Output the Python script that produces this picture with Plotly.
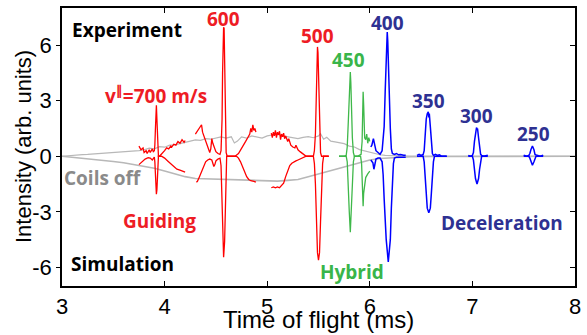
import plotly.graph_objects as go

# ---------------- data ----------------
# Coils off, experiment (grey, positive side)
coils_exp_t = [3.0, 3.05, 3.1, 3.15, 3.2, 3.25, 3.3, 3.35, 3.4, 3.45, 3.5, 3.55, 3.6, 3.65, 3.7, 3.75,
               3.8, 3.85, 3.9, 3.95, 4.0, 4.05, 4.1, 4.15, 4.2, 4.25, 4.3, 4.35, 4.4, 4.45, 4.5, 4.55,
               4.6, 4.65, 4.68, 4.71, 4.75, 4.8, 4.85, 4.9, 4.95, 5.0, 5.05, 5.1, 5.15, 5.2, 5.25,
               5.3, 5.35, 5.4, 5.45, 5.5, 5.52, 5.55, 5.58, 5.62, 5.66, 5.7, 5.75, 5.8, 5.85, 5.9,
               5.95, 6.0, 6.05, 6.1, 6.15, 6.2, 6.3, 6.4, 6.5, 6.6, 6.8, 7.0, 7.2, 7.4, 7.6, 7.8, 8.0]
coils_exp_v = [0.0, 0.03, 0.06, 0.05, 0.09, 0.1, 0.12, 0.11, 0.15, 0.14, 0.18, 0.2, 0.21, 0.24, 0.27, 0.3,
               0.35, 0.44, 0.4, 0.52, 0.49, 0.6, 0.62, 0.68, 0.78, 0.8, 0.88, 0.86, 0.95, 0.92, 1.0, 1.05,
               0.98, 1.05, 0.72, 0.82, 1.05, 0.98, 1.1, 1.04, 0.98, 1.1, 1.13, 1.2, 1.1, 1.05, 0.98,
               0.95, 1.02, 1.06, 1.0, 1.1, 1.22, 0.92, 1.02, 0.82, 0.78, 0.72, 0.68, 0.55, 0.5, 0.36,
               0.28, 0.2, 0.13, 0.08, 0.05, 0.03, 0.02, 0.01, 0.0, 0.0, 0.0, 0.0, 0.0, 0.0, 0.0, 0.0, 0.0]

# Coils off, simulation (grey, negative side)
coils_sim_t = [3.0, 3.1, 3.2, 3.3, 3.4, 3.5, 3.6, 3.7, 3.8, 3.9, 4.0, 4.1, 4.2, 4.3, 4.4, 4.5, 4.6,
               4.7, 4.8, 4.9, 5.0, 5.1, 5.2, 5.3, 5.4, 5.5, 5.6, 5.7, 5.8, 5.9, 6.0, 6.1, 6.2, 6.4,
               6.6, 7.0, 7.5, 8.0]
coils_sim_v = [0.0, -0.05, -0.1, -0.15, -0.2, -0.28, -0.35, -0.45, -0.55, -0.65, -0.8, -0.95, -1.1,
               -1.2, -1.22, -1.25, -1.24, -1.28, -1.3, -1.32, -1.35, -1.34, -1.3, -1.25, -1.1, -0.95,
               -0.8, -0.65, -0.5, -0.35, -0.2, -0.12, -0.08, -0.03, -0.01, 0.0, 0.0, 0.0]

# Guiding (red), experiment
guiding_exp_t = [3.75, 3.77, 3.79, 3.80, 3.82, 3.83, 3.85, 3.86, 3.88, 3.89, 3.90, 3.905, 3.91, 3.915,
                 3.92, 3.925, 3.93, 3.935, 3.94, 3.95, 3.96, 3.98, 4.00, 4.02, 4.04, 4.06, 4.07, 4.09,
                 4.11, 4.13, 4.15, 4.17, 4.19, 4.20, None,
                 4.30, 4.32, 4.34, 4.36, 4.37, 4.39, 4.41, 4.43, 4.44, 4.45, 4.46, 4.47, 4.48, 4.49,
                 4.50, 4.52, 4.54, 4.55, 4.56, 4.565, 4.57, 4.575, 4.58, 4.585, 4.59, 4.595, 4.60,
                 4.61, 4.65, 4.69, 4.72, 4.75, 4.77, 4.79, 4.81, 4.83, 4.84, 4.85, 4.86, 4.87, 4.88,
                 4.89, None,
                 5.04, 5.05, 5.06, 5.07, 5.08, 5.09, 5.10, 5.11, 5.12, 5.13, 5.14, 5.15, 5.16, 5.17,
                 5.18, 5.20, 5.21, 5.23, 5.25, 5.27, 5.28, 5.30, 5.32, 5.34, 5.36, 5.38, 5.45, 5.46,
                 5.47, 5.475, 5.48, 5.485, 5.49, 5.495, 5.50, 5.505, 5.51, 5.52, 5.53, 5.60]
guiding_exp_v = [0.55, 0.35, 0.45, 0.2, 0.3, 0.15, 0.35, 0.2, 0.4, 0.25, 0.3, 0.6, 1.4, 2.3,
                 2.75, 2.0, 1.0, 0.3, 0.0, 0.0, 0.05, 0.15, 0.3, 0.45, 0.4, 0.55, 0.5, 0.65,
                 0.6, 0.8, 0.7, 0.9, 0.75, 0.85, None,
                 1.2, 1.35, 1.5, 1.7, 1.3, 1.0, 0.7, 0.45, 0.2, 0.4, 0.95, 0.7, 0.5, 0.35,
                 0.25, 0.15, 0.1, 0.3, 2.0, 4.5, 6.5, 6.96, 6.9, 5.5, 3.5, 1.5, 0.2,
                 0.0, 0.0, 0.02, 0.15, 0.4, 0.6, 0.8, 1.0, 1.2, 1.5, 1.3, 1.7, 1.4, 1.5,
                 1.3, None,
                 1.25, 1.0, 1.3, 1.1, 1.4, 1.0, 1.3, 1.15, 1.35, 0.9, 1.2, 1.05, 1.25, 0.95,
                 1.1, 0.8, 0.95, 0.6, 0.5, 0.45, 0.6, 0.35, 0.25, 0.15, 0.05, 0.0, 0.0, 0.3,
                 1.2, 2.6, 4.3, 5.5, 5.9, 5.6, 4.4, 2.6, 1.0, 0.2, 0.0, 0.0]

# Guiding (red), simulation
guiding_sim_t = [3.75, 3.78, 3.81, 3.84, 3.86, 3.88, 3.89, 3.90, 3.905, 3.91, 3.915, 3.92, 3.925,
                 3.93, 3.935, 3.94, 3.97, 4.00, 4.03, 4.06, 4.09, 4.12, 4.15, 4.18, 4.20, None,
                 4.31, 4.32, 4.34, 4.36, 4.38, 4.40, 4.42, 4.44, 4.46, 4.47, 4.48, 4.49, 4.50, 4.52,
                 4.54, 4.55, 4.555, 4.56, 4.565, 4.575, 4.585, 4.59, 4.595, 4.60, 4.605, 4.70, 4.72,
                 4.74, 4.76, 4.78, 4.80, 4.82, 4.84, 4.87, 4.89, None,
                 5.04, 5.06, 5.08, 5.10, 5.12, 5.14, 5.16, 5.18, 5.20, 5.22, 5.24, 5.26, 5.28, 5.30,
                 5.32, 5.34, 5.36, 5.38, 5.45, 5.46, 5.47, 5.48, 5.49, 5.50, 5.51, 5.52, 5.53, 5.54,
                 5.55, 5.60]
guiding_sim_v = [-0.45, -0.3, -0.15, -0.08, -0.1, -0.2, -0.1, -0.05, -0.3, -1.0, -1.8, -2.05, -1.8,
                 -1.0, -0.3, 0.0, 0.0, -0.1, -0.25, -0.4, -0.55, -0.7, -0.75, -0.8, -0.85, None,
                 -1.4, -1.35, -1.1, -0.8, -0.5, -0.3, -0.2, -0.15, -0.2, -0.4, -0.55, -0.45, -0.25, -0.15,
                 -0.1, -0.5, -1.5, -3.0, -4.6, -5.45, -4.6, -3.0, -1.5, -0.5, 0.0, 0.0, -0.1,
                 -0.3, -0.6, -0.85, -1.1, -1.25, -1.32, -1.35, -1.4, None,
                 -1.7, -1.65, -1.7, -1.65, -1.7, -1.6, -1.45, -1.1, -0.75, -0.5, -0.38, -0.3, -0.25, -0.2,
                 -0.15, -0.1, -0.05, 0.0, 0.0, -0.4, -1.5, -3.5, -5.2, -5.6, -5.2, -3.5, -1.5, -0.4,
                 0.0, 0.0]

# Hybrid (green), experiment
hybrid_exp_t = [5.70, 5.75, 5.77, 5.78, 5.79, 5.80, 5.805, 5.81, 5.815, 5.82, 5.83, 5.84, 5.85, 5.88,
                5.915, 5.925, 5.93, 5.935, 5.94, 5.945, 5.95, 5.96, 5.97, 5.98, 5.99, 6.00]
hybrid_exp_v = [0.0, 0.0, 0.05, 0.5, 1.8, 3.5, 4.2, 4.55, 4.0, 2.8, 1.0, 0.2, 0.0, 0.0,
                0.1, 0.8, 2.5, 3.48, 2.8, 1.6, 1.0, 0.9, 1.2, 0.7, 1.0, 0.8]

# Hybrid (green), simulation
hybrid_sim_t = [5.70, 5.77, 5.78, 5.79, 5.80, 5.81, 5.82, 5.83, 5.84, 5.85, 5.91, 5.92, 5.93, 5.935,
                5.94, 5.95, 5.96, 5.98, 6.00]
hybrid_sim_v = [0.0, 0.0, -0.3, -1.3, -3.0, -4.1, -3.0, -1.3, -0.3, 0.0, 0.0, -0.4, -1.8, -2.7,
                -2.0, -1.4, -1.15, -0.95, -0.8]

# Deceleration (blue), experiment
decel_exp_t = [6.01, 6.02, 6.035, 6.045, 6.06, 6.08, 6.09, 6.10, 6.12, 6.13, 6.14, 6.15, 6.16, 6.17,
               6.175, 6.18, 6.19, 6.20, 6.21, 6.22, 6.24, 6.26, 6.28, 6.30, 6.33, 6.35, None,
               6.46, 6.48, 6.50, 6.52, 6.53, 6.54, 6.55, 6.56, 6.57, 6.575, 6.58, 6.59, 6.60, 6.61,
               6.62, 6.64, 6.66, 6.68, 6.70, 6.75, None,
               6.96, 6.98, 7.00, 7.01, 7.02, 7.03, 7.04, 7.045, 7.05, 7.06, 7.07, 7.08, 7.09, 7.11,
               7.15, None,
               7.50, 7.53, 7.55, 7.56, 7.57, 7.585, 7.60, 7.61, 7.63, 7.66, 7.69]
decel_exp_v = [0.5, 0.6, 0.95, 0.6, 0.3, 0.2, 0.15, 0.1, 0.3, 1.2, 1.6, 3.5, 5.8, 6.7,
               6.2, 5.0, 3.0, 1.5, 0.4, 0.15, 0.1, 0.15, 0.08, 0.1, 0.05, 0.05, None,
               0.05, 0.1, 0.04, 0.1, 0.3, 1.2, 2.0, 2.3, 2.4, 2.1, 2.3, 1.6, 0.6, 0.15,
               0.05, 0.1, 0.05, 0.08, 0.0, 0.0, None,
               0.05, 0.0, 0.05, 0.2, 0.8, 1.3, 1.55, 1.45, 1.5, 1.0, 0.4, 0.1, 0.05, 0.0,
               0.05, None,
               0.05, 0.0, 0.05, 0.15, 0.35, 0.55, 0.35, 0.1, 0.05, 0.0, 0.05]

# Deceleration (blue), simulation
decel_sim_t = [6.01, 6.03, 6.04, 6.05, 6.06, 6.08, 6.10, 6.12, 6.13, 6.14, 6.16, 6.18, 6.20, 6.21,
               6.22, 6.23, 6.24, 6.26, 6.35, None,
               6.46, 6.52, 6.53, 6.54, 6.55, 6.56, 6.575, 6.59, 6.60, 6.61, 6.62, 6.63, 6.75, None,
               6.96, 7.00, 7.01, 7.02, 7.03, 7.045, 7.06, 7.07, 7.08, 7.09, 7.15, None,
               7.50, 7.55, 7.56, 7.57, 7.585, 7.60, 7.61, 7.62, 7.69]
decel_sim_v = [-0.2, -0.35, -0.7, -0.45, -0.15, -0.1, -0.1, -0.3, -1.0, -2.3, -4.5, -5.7, -4.5, -2.8,
               -1.2, -0.4, -0.1, -0.05, -0.05, None,
               0.0, 0.0, -0.3, -1.0, -2.0, -2.8, -3.05, -2.8, -2.0, -1.0, -0.3, 0.0, 0.0, None,
               0.0, 0.0, -0.2, -0.7, -1.2, -1.5, -1.2, -0.7, -0.2, 0.0, 0.0, None,
               0.0, 0.0, -0.1, -0.3, -0.48, -0.3, -0.1, 0.0, 0.0]

# Tick labels
x_ticks = [3, 4, 5, 6, 7, 8]
y_ticks = [-6, -3, 0, 3, 6]

# Labels: (text, t, value, colour)
labels = [
    ("Experiment", 3.63, 6.8, "#000000"),
    ("Simulation", 3.59, -5.8, "#000000"),
    ("Coils off", 3.4, -1.17, "#8a8a8a"),
    ("Guiding", 3.95, -3.5, "#ee1c25"),
    ("Hybrid", 5.83, -6.25, "#39b54a"),
    ("Deceleration", 7.29, -3.6, "#2e3192"),
    ("v<sup>\u2225</sup>=700 m/s", 3.92, 3.3, "#ee1c25"),
    ("600", 4.575, 7.4, "#ee1c25"),
    ("500", 5.49, 6.5, "#ee1c25"),
    ("450", 5.79, 5.2, "#39b54a"),
    ("400", 6.17, 7.2, "#2e3192"),
    ("350", 6.57, 3.0, "#2e3192"),
    ("300", 7.04, 2.15, "#2e3192"),
    ("250", 7.6, 1.2, "#2e3192"),
]

GREY = "#b8b8b8"
RED = "#ff0000"
GREEN = "#3fb84a"
BLUE = "#0000ff"

fig = go.Figure()
traces = [
    (coils_exp_t, coils_exp_v, GREY, 1.2),
    (coils_sim_t, coils_sim_v, GREY, 1.6),
    (guiding_exp_t, guiding_exp_v, RED, 1.3),
    (guiding_sim_t, guiding_sim_v, RED, 1.3),
    (hybrid_exp_t, hybrid_exp_v, GREEN, 1.3),
    (hybrid_sim_t, hybrid_sim_v, GREEN, 1.3),
    (decel_exp_t, decel_exp_v, BLUE, 1.5),
    (decel_sim_t, decel_sim_v, BLUE, 1.5),
]
for t, v, c, w in traces:
    fig.add_trace(go.Scatter(x=t, y=v, mode="lines", line=dict(color=c, width=w),
                             connectgaps=False, showlegend=False, hoverinfo="skip"))

# invisible trace on right axis to activate mirrored inside ticks
fig.add_trace(go.Scatter(x=[3], y=[0], yaxis="y2", mode="markers",
                         marker=dict(opacity=0), showlegend=False, hoverinfo="skip"))

LABEL_FONT = "Open Sans, Lato, sans-serif"
for text, t, v, c in labels:
    fig.add_annotation(x=t, y=v, xref="x", yref="y", text="<b>%s</b>" % text,
                       showarrow=False, font=dict(family=LABEL_FONT, size=19, color=c),
                       xanchor="center", yanchor="middle")

AX_FONT = "Liberation Sans, Arial, sans-serif"
fig.add_annotation(x=0, y=0.5, xref="paper", yref="paper", xshift=-39,
                   text="Intensity (arb. units)", textangle=-90, showarrow=False,
                   font=dict(family=AX_FONT, size=22, color="#000"),
                   xanchor="center", yanchor="middle")
fig.add_annotation(x=0.5, y=0, xref="paper", yref="paper", yshift=-33,
                   text="Time of flight (ms)", showarrow=False,
                   font=dict(family=AX_FONT, size=24, color="#000"),
                   xanchor="center", yanchor="middle")

fig.update_layout(
    width=587, height=335,
    margin=dict(l=62, r=7, t=6, b=49),
    paper_bgcolor="white", plot_bgcolor="white",
    font=dict(family=AX_FONT, size=22, color="#000"),
    xaxis=dict(range=[3, 8], tickvals=x_ticks, ticktext=[str(v) for v in x_ticks],
               ticks="inside", ticklen=5, tickwidth=1.2, tickcolor="#000",
               showline=True, linecolor="#000", linewidth=1.5, mirror="ticks",
               showgrid=False, zeroline=False, tickfont=dict(size=22)),
    yaxis=dict(range=[-7, 8], tickvals=y_ticks, ticktext=[str(v) for v in y_ticks],
               ticks="outside", ticklen=4, tickwidth=1.2, tickcolor="#000",
               showline=True, linecolor="#000", linewidth=1.5, mirror=True,
               showgrid=False, zeroline=False, tickfont=dict(size=22)),
    yaxis2=dict(range=[-7, 8], overlaying="y", side="right", tickvals=y_ticks,
                showticklabels=False, ticks="inside", ticklen=5, tickwidth=1.2,
                tickcolor="#000", showline=False, showgrid=False, zeroline=False),
)

fig.write_html("out.html", config={"displayModeBar": False},
               post_script="document.body.style.margin='0';document.body.style.overflow='hidden';")
